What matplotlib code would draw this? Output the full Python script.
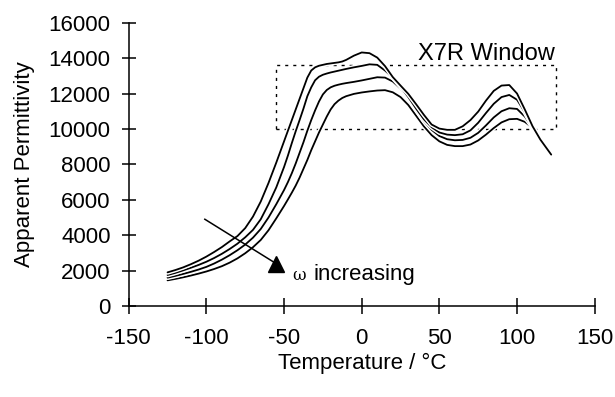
import matplotlib
matplotlib.use("Agg")
import matplotlib.pyplot as plt
import matplotlib.patheffects as pe
from matplotlib.patches import Rectangle

plt.rcParams['font.family'] = ['Liberation Sans', 'DejaVu Sans']
plt.rcParams['axes.unicode_minus'] = False

# Temperature grid (°C)
temperature = [-125, -120, -115, -110, -105, -100, -95, -90, -85, -80, -75, -70, -65, -60, -55, -50,
               -47.5, -45, -42.5, -40, -37.5, -35, -32.5, -30, -27.5, -25, -22.5, -20, -17.5, -15,
               -12.5, -10, -5, 0, 5, 10, 15, 20, 25, 30, 35, 40, 45, 50, 55, 60, 65, 70, 75, 80,
               85, 90, 95, 100, 105, 110, 115, 122]

# Apparent permittivity at four frequencies (omega increasing from w1 to w4)
perm_w1 = [1900, 2030, 2180, 2360, 2560, 2790, 3050, 3330, 3650, 3950, 4400, 5050, 5900, 6950,
           8100, 9300, 9900, 10500, 11100, 11700, 12300, 12900, 13300, 13480, 13570, 13620,
           13670, 13700, 13730, 13760, 13810, 13900, 14140, 14320, 14280, 14030, 13550, 12930,
           12450, 11980, 11400, 10800, 10250, 10020, 9950, 9950, 10150, 10500, 10980, 11600,
           12150, 12450, 12480, 12000, 11100, 10150, 9400, 8550]
perm_w2 = [1750, 1870, 2010, 2160, 2320, 2500, 2710, 2950, 3220, 3520, 3880, 4300, 4900, 5750,
           6700, 7850, 8500, 9200, 9870, 10500, 11150, 11850, 12350, 12750, 12950, 13060,
           13130, 13190, 13240, 13290, 13340, 13390, 13480, 13560, 13650, 13620, 13300, 12900,
           12380, 11800, 11150, 10550, 10100, 9800, 9680, 9650, 9700, 9920, 10350, 10900,
           11420, 11800, 11920, 11650, 10950, 10120, 9400, 8550]
perm_w3 = [1600, 1700, 1810, 1930, 2060, 2210, 2400, 2620, 2870, 3150, 3470, 3860, 4350, 5000,
           5750, 6550, 7000, 7500, 8050, 8650, 9250, 9900, 10500, 11050, 11550, 11950,
           12200, 12350, 12440, 12500, 12550, 12590, 12660, 12740, 12830, 12920, 12900, 12680,
           12280, 11750, 11100, 10450, 9950, 9600, 9420, 9360, 9380, 9500, 9780, 10200,
           10650, 11000, 11170, 11130, 10700, 10080, 9380, 8550]
perm_w4 = [1450, 1530, 1620, 1720, 1830, 1950, 2090, 2250, 2450, 2690, 2980, 3320, 3730, 4280,
           4950, 5650, 6020, 6400, 6800, 7250, 7750, 8250, 8800, 9300, 9800, 10250,
           10700, 11100, 11400, 11600, 11750, 11850, 11980, 12060, 12120, 12170, 12190, 12070,
           11800, 11350, 10750, 10150, 9650, 9300, 9100, 9030, 9030, 9120, 9350, 9680,
           10050, 10370, 10550, 10570, 10400, 10060, 9380, 8550]

# X7R window (temperature range, permittivity band)
window_t = [-55, 125]
window_perm = [10000, 13600]

# Arrow annotation (start, end) in data units
arrow_t = [-101, -57]
arrow_perm = [4900, 2500]
arrow_head = (-55.5, 2380)

fig = plt.figure(figsize=(6.15, 3.97), dpi=100)
ax = fig.add_axes([0.2093, 0.2292, 0.7577, 0.7136])

halo = [pe.Stroke(linewidth=3.4, foreground='white'), pe.Normal()]
for series in (perm_w4, perm_w3, perm_w2, perm_w1):
    ax.plot(temperature, series, color='black', linewidth=1.3, path_effects=halo,
            solid_joinstyle='round', solid_capstyle='round', zorder=3)

rect = Rectangle((window_t[0], window_perm[0]), window_t[1] - window_t[0],
                 window_perm[1] - window_perm[0], fill=False, edgecolor='black',
                 linewidth=1.0, linestyle=(0, (2.2, 3.6)), zorder=2)
ax.add_patch(rect)
ax.text(window_t[1] - 1, window_perm[1] + 300, 'X7R Window', ha='right', va='baseline',
        fontsize=17)

ax.plot(arrow_t, arrow_perm, color='black', linewidth=1.1, zorder=4)
ax.plot([arrow_head[0]], [arrow_head[1]], marker='^', markersize=12, color='black',
        linestyle='none', zorder=4)
ax.text(-44.5, 1480, 'ω', ha='left', va='baseline', fontsize=12, family=['DejaVu Serif'])
ax.text(-31, 1480, 'increasing', ha='left', va='baseline', fontsize=16)

ax.set_xlim(-150, 150)
ax.set_ylim(0, 16000)
ax.set_xticks([-150, -100, -50, 0, 50, 100, 150])
ax.set_yticks(list(range(0, 16001, 2000)))
ax.spines['top'].set_visible(False)
ax.spines['right'].set_visible(False)
for s in ('left', 'bottom'):
    ax.spines[s].set_linewidth(1.1)
ax.tick_params(axis='y', direction='inout', length=10, width=1.1, labelsize=16, pad=8)
ax.tick_params(axis='x', direction='inout', length=11.5, width=1.1, labelsize=16, pad=10)
ax.set_xlabel('Temperature / °C', fontsize=16, labelpad=3)
ax.set_ylabel('Apparent Permittivity', fontsize=16, labelpad=10)

fig.savefig('out.png', dpi=100)
